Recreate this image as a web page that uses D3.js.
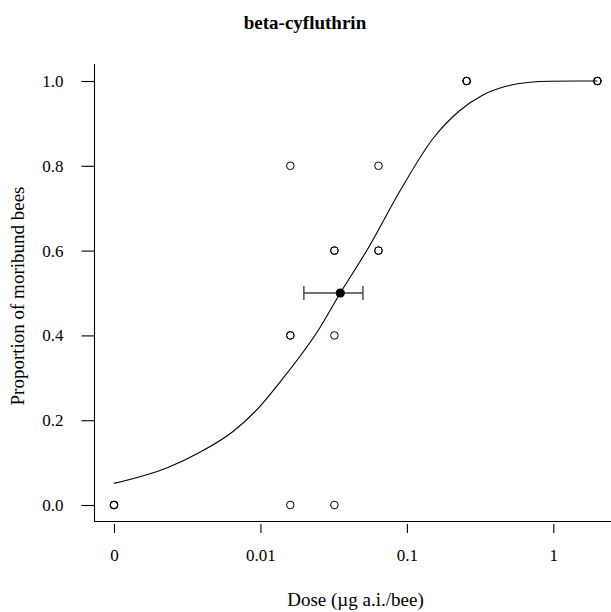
<!DOCTYPE html>
<html>
<head>
<meta charset="utf-8">
<script src="https://cdn.jsdelivr.net/npm/d3@7/dist/d3.min.js"></script>
<style>
  html, body { margin: 0; padding: 0; background: #fff; }
  svg { display: block; }
  text { font-family: "Liberation Serif", "DejaVu Serif", serif; fill: #000; font-variant-numeric: oldstyle-nums; }
</style>
</head>
<body>
<div id="chart"></div>
<script>
// Observed proportions of moribund bees per cage (dose in µg a.i./bee; 0 = control)
const obsDose = [0, 0, 0, 0.016, 0.016, 0.016, 0.016, 0.032, 0.032, 0.032, 0.032,
                 0.064, 0.064, 0.064, 0.256, 0.256, 0.256, 2, 2, 2];
const obsProp = [0, 0, 0, 0.8, 0.4, 0.4, 0.0, 0.6, 0.6, 0.4, 0.0,
                 0.8, 0.6, 0.6, 1, 1, 1, 1, 1, 1];

// Fitted dose-response curve, sampled along the dose axis
const curveDose = [0.001, 0.00231, 0.00389, 0.00653, 0.00989, 0.0139, 0.02535, 0.0351,
                   0.0545, 0.0899, 0.1514, 0.2312, 0.3311, 0.4831, 0.6934, 0.9506, 2];
const curveProp = [0.051, 0.088, 0.125, 0.174, 0.232, 0.294, 0.417, 0.5,
                   0.606, 0.741, 0.865, 0.931, 0.967, 0.988, 0.997, 0.9995, 1.0];

// LD50 estimate with its confidence interval
const ld50 = 0.0351;
const ld50Low = 0.0198;
const ld50High = 0.0501;
const ld50Prop = 0.5;

// Axis ticks
const xTickValues = [0.001, 0.01, 0.1, 1];
const xTickLabels = ["0", "0.01", "0.1", "1"];
const yTickValues = [0, 0.2, 0.4, 0.6, 0.8, 1.0];
const yTickLabels = ["0.0", "0.2", "0.4", "0.6", "0.8", "1.0"];

// The control group (dose 0) is drawn at the lowest tick position
const zeroDose = 0.001;
const plotDose = d => (d === 0 ? zeroDose : d);

const W = 611, H = 612;
const svg = d3.select("#chart").append("svg").attr("width", W).attr("height", H);

const x = d3.scaleLog().domain([0.001, 1]).range([114, 553.3]);
const y = d3.scaleLinear().domain([0, 1]).range([505, 81]);

const frameLeft = 94.5, frameBottom = 521.5, frameTop = 64, frameRight = 611;

// Title
svg.append("text")
  .attr("x", 305).attr("y", 28.5)
  .attr("text-anchor", "middle")
  .attr("font-weight", "bold")
  .attr("font-size", 19)
  .text("beta-cyfluthrin");

// L-shaped frame
svg.append("path")
  .attr("d", `M${frameLeft},${frameTop}V${frameBottom}H${frameRight}`)
  .attr("fill", "none").attr("stroke", "#000").attr("stroke-width", 1.1);

// Y axis
const yAxis = d3.axisLeft(y)
  .tickValues(yTickValues)
  .tickFormat((d, i) => yTickLabels[i])
  .tickSize(13).tickPadding(18);
const gy = svg.append("g").attr("transform", `translate(${frameLeft},0)`).call(yAxis);
gy.select(".domain").remove();
gy.selectAll(".tick line").attr("stroke", "#000").attr("stroke-width", 1.1);
gy.selectAll(".tick text").attr("font-size", 17).attr("font-family", null);

// X axis (ticks sit just below the frame)
const xAxis = d3.axisBottom(x)
  .tickValues(xTickValues)
  .tickFormat((d, i) => xTickLabels[i])
  .tickSize(9).tickPadding(16);
const gx = svg.append("g").attr("transform", `translate(0,${frameBottom + 2.5})`).call(xAxis);
gx.select(".domain").remove();
gx.selectAll(".tick line").attr("stroke", "#000").attr("stroke-width", 1.1);
gx.selectAll(".tick text").attr("font-size", 17).attr("font-family", null);

// Axis titles
svg.append("text")
  .attr("x", 355.5).attr("y", 606)
  .attr("text-anchor", "middle")
  .attr("font-size", 19)
  .text("Dose (µg a.i./bee)");

svg.append("text")
  .attr("transform", "translate(24,296) rotate(-90)")
  .attr("text-anchor", "middle")
  .attr("font-size", 19)
  .text("Proportion of moribund bees");

// Dose-response curve
const line = d3.line()
  .x((d, i) => x(curveDose[i]))
  .y((d, i) => y(curveProp[i]))
  .curve(d3.curveMonotoneX);
svg.append("path")
  .datum(curveDose)
  .attr("d", line)
  .attr("fill", "none").attr("stroke", "#000").attr("stroke-width", 1.1);

// Observations
svg.append("g").selectAll("circle")
  .data(obsDose)
  .join("circle")
  .attr("cx", d => x(plotDose(d)))
  .attr("cy", (d, i) => y(obsProp[i]))
  .attr("r", 3.8)
  .attr("fill", "none").attr("stroke", "#000").attr("stroke-width", 1);

// LD50 with confidence interval
const ci = svg.append("g").attr("stroke", "#444").attr("stroke-width", 1.4);
ci.append("line")
  .attr("x1", x(ld50Low)).attr("x2", x(ld50High))
  .attr("y1", y(ld50Prop)).attr("y2", y(ld50Prop));
[ld50Low, ld50High].forEach(v => {
  ci.append("line")
    .attr("x1", x(v)).attr("x2", x(v))
    .attr("y1", y(ld50Prop) - 7).attr("y2", y(ld50Prop) + 7);
});
svg.append("circle")
  .attr("cx", x(ld50)).attr("cy", y(ld50Prop))
  .attr("r", 4.6).attr("fill", "#000");
</script>
</body>
</html>
